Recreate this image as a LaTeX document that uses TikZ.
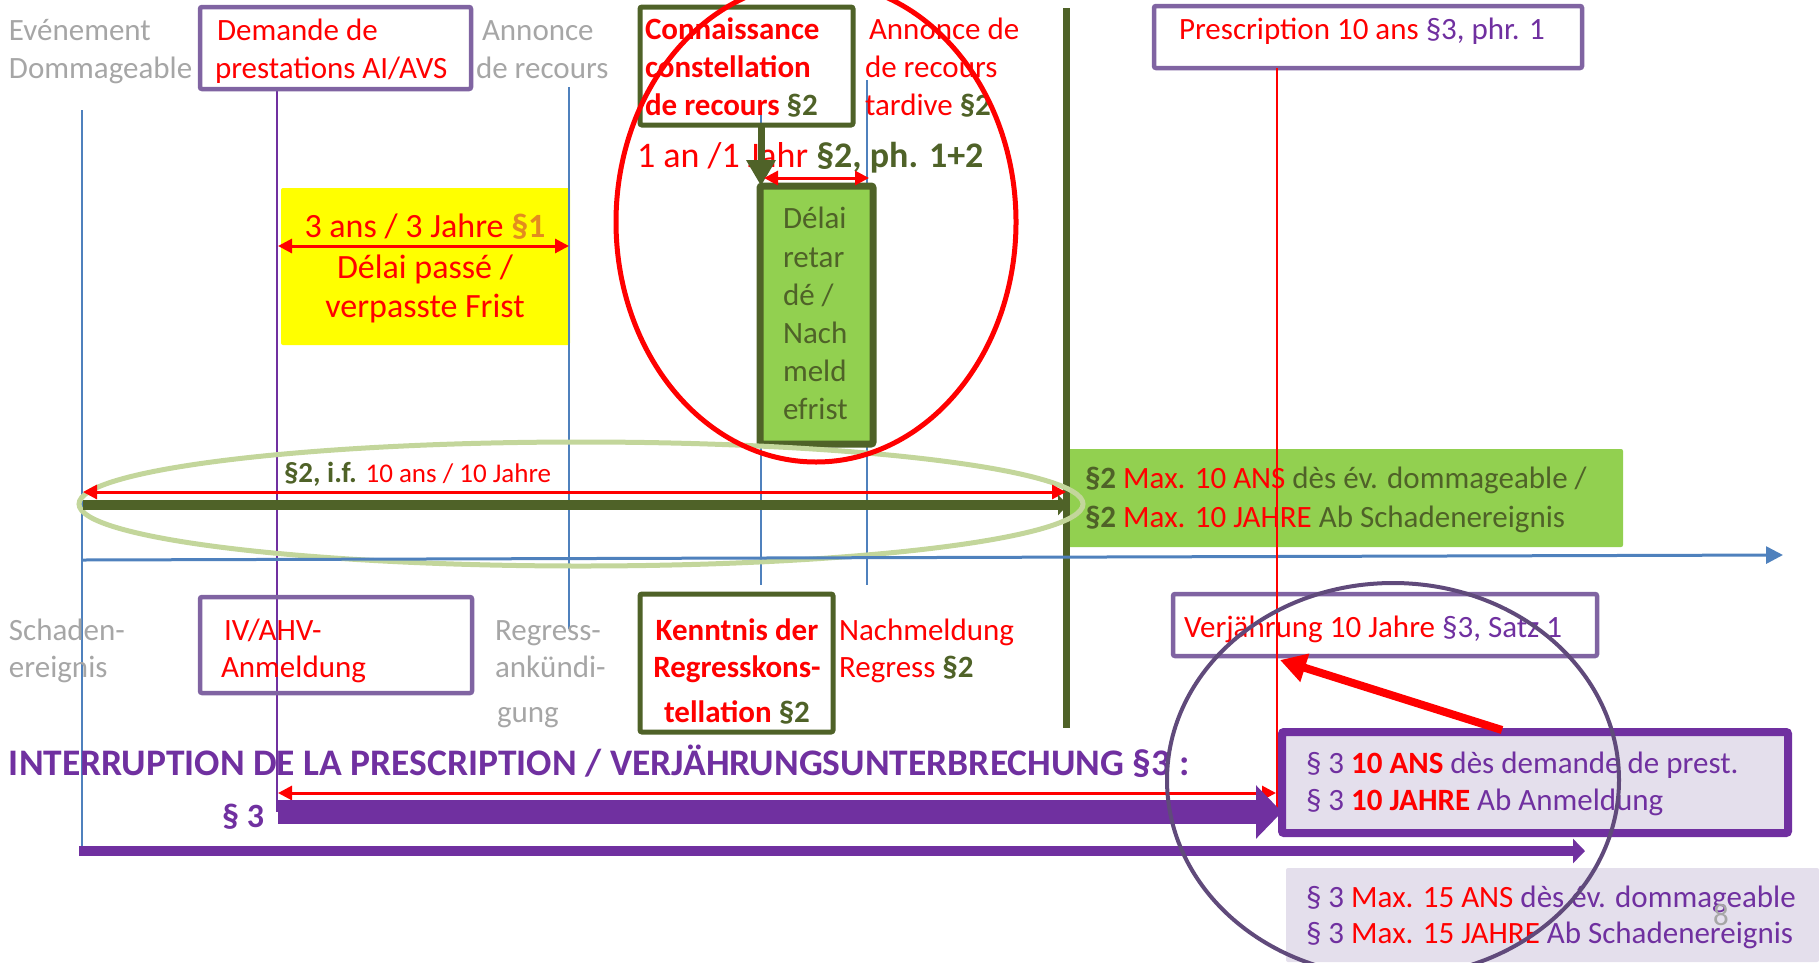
\documentclass[tikz,border=0pt]{standalone}
\usepackage{fontspec}
\setmainfont{Carlito}
\usetikzlibrary{arrows.meta}
\definecolor{grayt}{HTML}{A6A6A6}
\definecolor{boxpurple}{HTML}{8064A2}
\definecolor{vio}{HTML}{7030A0}
\definecolor{dgreen}{HTML}{4F6228}
\definecolor{lgreen}{HTML}{92D050}
\definecolor{pgreen}{HTML}{C3D69B}
\definecolor{lblue}{HTML}{4F81BD}
\definecolor{lav}{HTML}{E4DFEC}
\definecolor{dpurp}{HTML}{604A7B}
\definecolor{orng}{HTML}{E38C1E}
\definecolor{rd}{HTML}{FF0000}
\definecolor{yel}{HTML}{FFFF00}
\begin{document}
\begin{tikzpicture}[x=1pt,y=-1pt,
  txt/.style={inner sep=0pt, outer sep=0pt, anchor=base west, font=\fontsize{31}{38}\selectfont},
  bigtxt/.style={inner sep=0pt, outer sep=0pt, anchor=base, font=\fontsize{34}{40}\selectfont},
  boxn/.style={inner sep=0pt, outer sep=0pt, anchor=north west, rounded corners=2pt},
  thinl/.style={line width=1.5pt},
  dbl/.style={draw=rd, line width=3pt, arrows={Triangle[width=14pt,length=14pt]-Triangle[width=14pt,length=14pt]}},
]
\useasboundingbox (0,0) rectangle (1819,962);

% ---------- boxes ----------
\node[boxn, fill=yel, minimum width=289pt, minimum height=157pt] (bYel) at (281,188) {};
\node[boxn, fill=lgreen, minimum width=556pt, minimum height=98pt] (bMax) at (1067,449) {};
\node[boxn, fill=lav, minimum width=533pt, minimum height=94pt] (bFif) at (1286,868) {};

% ---------- thin timeline lines ----------
\coordinate (l1a) at (82,110);  \coordinate (l1b) at (82,851);
\coordinate (l2a) at (277,89);  \coordinate (l2b) at (277,812);
\coordinate (l3a) at (569,87);  \coordinate (l3b) at (569,629);
\coordinate (l4a) at (761,113); \coordinate (l4b) at (761,585);
\coordinate (l5a) at (867,80);  \coordinate (l5b) at (867,585);
\draw[lblue, thinl] (l1a) -- (l1b);
\draw[vio, thinl] (l2a) -- (l2b);
\draw[lblue, thinl] (l3a) -- (l3b);
\draw[lblue, thinl] (l4a) -- (l4b);
\draw[lblue, thinl] (l5a) -- (l5b);

% ---------- framed boxes ----------
\node[boxn, draw=boxpurple, line width=4.5pt, minimum width=271pt, minimum height=82pt] (bDem) at (200,7) {};
\node[boxn, draw=dgreen, line width=5pt, minimum width=213pt, minimum height=118pt] (bCon) at (640,7) {};
\node[boxn, draw=boxpurple, line width=4.5pt, minimum width=428pt, minimum height=62pt] (bPre) at (1154,6) {};
\node[boxn, draw=boxpurple, line width=4.5pt, minimum width=272pt, minimum height=96pt] (bIV) at (200,597) {};
\node[boxn, draw=dgreen, line width=5pt, minimum width=193pt, minimum height=138pt] (bKen) at (640,594) {};
\node[boxn, draw=boxpurple, line width=4.5pt, minimum width=424pt, minimum height=62pt] (bVer) at (1173,594) {};
\node[boxn, draw=dgreen, fill=lgreen, line width=7pt, minimum width=113pt, minimum height=258pt] (bDel) at (760,186) {};
\node[boxn, draw=vio, fill=lav, line width=8pt, minimum width=506pt, minimum height=101pt] (bTen) at (1282,732) {};

% ---------- dark green vertical bar ----------
\coordinate (gbTop) at (1066,8); \coordinate (gbBot) at (1066,728);
\draw[dgreen, line width=7pt] (gbTop) -- (gbBot);

% ---------- top texts ----------
\node[txt, grayt] (g1) at (9,40) {Evénement};
\node[txt, grayt] (g2) at (9,78) {Dommageable};
\node[txt, grayt] (g3) at (482,40) {Annonce};
\node[txt, grayt] (g4) at (476,78) {de recours};
\node[txt, rd] (r1) at (217,40) {Demande de};
\node[txt, rd] (r2) at (215,78) {prestations AI/AVS};
\node[txt, rd, font=\fontsize{31}{38}\selectfont\bfseries] (r3) at (645,39) {Connaissance};
\node[txt, rd, font=\fontsize{31}{38}\selectfont\bfseries] (r4) at (645,77) {constellation};
\node[txt, rd, font=\fontsize{31}{38}\selectfont\bfseries] (r5) at (645,115) {de recours \textcolor{dgreen}{§2}};
\node[txt, rd] (r6) at (869,39) {Annonce de};
\node[txt, rd] (r7) at (865,77) {de recours};
\node[txt, rd] (r8) at (865,115) {tardive \textcolor{dgreen}{\bfseries §2}};
\node[txt, rd] (r9) at (1179,39) {Prescription 10 ans \textcolor{vio}{§3, phr. 1}};

% ---------- red vertical line ----------
\coordinate (rlTop) at (1277,68); \coordinate (rlBot) at (1277,812);

% ---------- 1 an / 1 Jahr ----------
\node[bigtxt, anchor=base west, rd, font=\fontsize{36}{42}\selectfont] (t1an) at (637,167) {1 an /1 Jahr \textcolor{dgreen}{\bfseries §2, ph. 1+2}};
\draw[dgreen, line width=7pt, arrows={-Triangle[width=28pt,length=26pt]}] (bCon.south -| l4a) -- (bDel.north -| l4a);
\coordinate (d1a) at (764,178); \coordinate (d1b) at (869,178);
\draw[dbl] (d1a) -- (d1b);

% ---------- Délai retardé box text ----------
\node[txt, dgreen] (dl1) at (783,228) {Délai};
\node[txt, dgreen] (dl2) at (783,267) {retar};
\node[txt, dgreen] (dl3) at (783,305) {dé /};
\node[txt, dgreen] (dl4) at (783,343) {Nach};
\node[txt, dgreen] (dl5) at (783,381) {meld};
\node[txt, dgreen] (dl6) at (783,419) {efrist};

% ---------- yellow box ----------
\node[bigtxt, rd] (y1) at (425,237) {3 ans / 3 Jahre \textcolor{orng}{\bfseries §1}};
\coordinate (d2a) at (278,246); \coordinate (d2b) at (569,246);
\draw[dbl] (d2a) -- (d2b);
\node[bigtxt, rd] (y2) at (425,278) {Délai passé /};
\node[bigtxt, rd] (y3) at (425,317) {verpasste Frist};

% ---------- §2 i.f. ellipse and arrows ----------
\coordinate (elG) at (581,504);
\draw[pgreen, line width=5pt] (elG) ellipse [x radius=502, y radius=62];
\coordinate (d3a) at (83,492); \coordinate (d3b) at (1066,492);
\draw[dbl] (d3a) -- (d3b);
\coordinate (ga) at (83,505); \coordinate (gb) at (1068,505);
\draw[dgreen, line width=10pt, arrows={-Triangle[width=20pt,length=10pt]}] (ga) -- (gb);
\node[txt, anchor=base west, font=\fontsize{29}{34}\selectfont] (tif) at (284,482) {\textcolor{dgreen}{\bfseries §2, i.f.} \textcolor{rd}{\fontsize{27}{32}\selectfont 10 ans / 10 Jahre}};

% ---------- time axis ----------
\coordinate (axa) at (82,560); \coordinate (axb) at (1783,555);
\draw[lblue, line width=3pt, arrows={-Triangle[width=17pt,length=17pt]}] (axa) -- (axb);

% ---------- green max box text ----------
\node[txt, dgreen] (m1) at (1085,488) {\textbf{§2} \textcolor{rd}{Max. 10 ANS} dès év. dommageable /};
\node[txt, dgreen] (m2) at (1085,527) {\textbf{§2} \textcolor{rd}{Max. 10 JAHRE} Ab Schadenereignis};

\draw[rd, line width=2pt] (rlTop) -- (rlBot);

% ---------- bottom texts ----------
\node[txt, grayt] (g5) at (9,640) {Schaden-};
\node[txt, grayt] (g6) at (9,677) {ereignis};
\node[txt, grayt] (g7) at (495,640) {Regress-};
\node[txt, grayt] (g8) at (495,677) {ankündi-};
\node[txt, grayt] (g9) at (497,722) {gung};
\node[txt, rd] (i1) at (224,640) {IV/AHV-};
\node[txt, rd] (i2) at (221,677) {Anmeldung};
\node[txt, anchor=base, rd, font=\fontsize{31}{38}\selectfont\bfseries] (k1) at (737,640) {Kenntnis der};
\node[txt, anchor=base, rd, font=\fontsize{31}{38}\selectfont\bfseries] (k2) at (737,677) {Regresskons-};
\node[txt, anchor=base, rd, font=\fontsize{31}{38}\selectfont\bfseries] (k3) at (737,722) {tellation \textcolor{dgreen}{§2}};
\node[txt, rd] (n1) at (839,640) {Nachmeldung};
\node[txt, rd] (n2) at (839,677) {Regress \textcolor{dgreen}{\bfseries §2}};
\node[txt, rd] (v1) at (1184,637) {Verjährung 10 Jahre \textcolor{vio}{§3, Satz 1}};

% red arrow to Verjährung
\coordinate (raS) at (1502,730); \coordinate (raT) at (1280,660);
\draw[rd, line width=8pt, arrows={-Triangle[width=28pt,length=26pt]}] (raS) -- (raT);

% ---------- interruption ----------
\node[txt, vio, font=\fontsize{37.5}{44}\selectfont\bfseries] (int) at (9,775) {INTERRUPTION DE LA PRESCRIPTION / VERJÄHRUNGSUNTERBRECHUNG §3 :};
\coordinate (d4a) at (278,793); \coordinate (d4b) at (1276,793);
\draw[dbl] (d4a) -- (d4b);
\coordinate (pa) at (278,812);
\draw[vio, line width=24pt, arrows={-Triangle[width=52pt,length=26pt]}] (pa) -- (bTen.west |- pa);
\node[txt, anchor=base east, vio, font=\fontsize{34}{40}\selectfont\bfseries] (s3) at (264,827) {§ 3};
\coordinate (la) at (79,851); \coordinate (lb) at (1585,851);
\draw[vio, line width=10pt, arrows={-Triangle[width=24pt,length=12pt]}] (la) -- (lb);

% ---------- lavender boxes text ----------
\node[txt, vio] (a1) at (1306,773) {§ 3 \textcolor{rd}{\bfseries 10 ANS} dès demande de prest.};
\node[txt, vio] (a2) at (1306,810) {§ 3 \textcolor{rd}{\bfseries 10 JAHRE} Ab Anmeldung};
\node[txt, vio] (f1) at (1306,907) {§ 3 \textcolor{rd}{Max. 15 ANS} dès év. dommageable};
\node[txt, vio] (f2) at (1306,943) {§ 3 \textcolor{rd}{Max. 15 JAHRE} Ab Schadenereignis};
\node[txt, grayt] (pg) at (1713,925) {8};

% ---------- ellipses ----------
\coordinate (ecR) at (816,222);
\draw[rd, line width=5pt] (ecR) ellipse [x radius=200, y radius=240];
\coordinate (ecP) at (1393,780);
\draw[dpurp, line width=4pt] (ecP) ellipse [x radius=226, y radius=197];
\end{tikzpicture}
\end{document}
